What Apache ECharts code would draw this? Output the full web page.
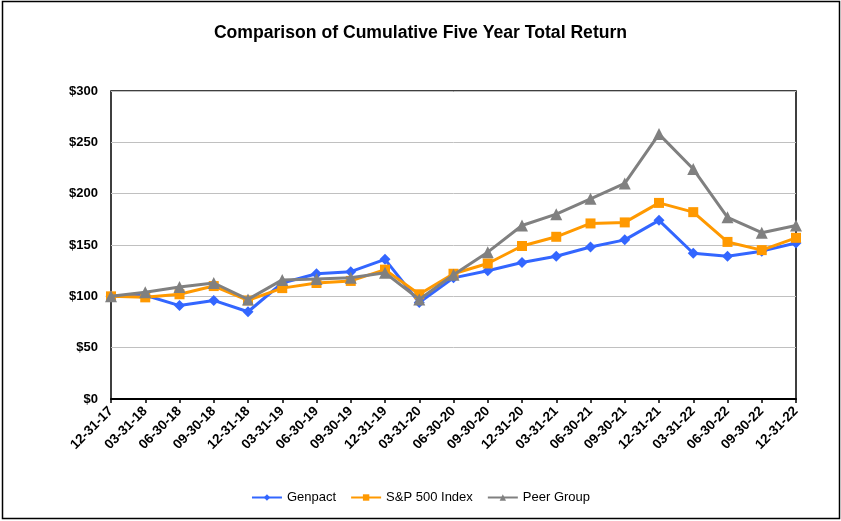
<!DOCTYPE html>
<html>
<head>
<meta charset="utf-8">
<script src="https://cdn.jsdelivr.net/npm/echarts@6/dist/echarts.min.js"></script>
<style>
html,body{margin:0;padding:0;background:#fff;}
#c{width:841px;height:521px;}
</style>
</head>
<body>
<div id="c"></div>
<script>
const categories = ["12-31-17","03-31-18","06-30-18","09-30-18","12-31-18","03-31-19","06-30-19","09-30-19","12-31-19","03-31-20","06-30-20","09-30-20","12-31-20","03-31-21","06-30-21","09-30-21","12-31-21","03-31-22","06-30-22","09-30-22","12-31-22"];
const genpact = [100,101,91,96,85,113,122,124,136,94,118,125,133,139,148,155,174,142,139,144,152];
const sp500 = [100,99,102,110,96,108,113,115,126,102,122,132,149,158,171,172,191,182,153,145,157];
const peer = [100,104,109,113,97,116,117,118,123,97,121,143,169,180,195,210,258,224,177,162,169];
const yTicks = [0,50,100,150,200,250,300];

const chart = echarts.init(document.getElementById('c'));
const font = 'Liberation Sans, Arial, sans-serif';
chart.setOption({
  animation:false,
  backgroundColor:'#fff',
  title:{text:'Comparison of Cumulative Five Year Total Return',left:'center',top:19,
    textStyle:{fontFamily:font,fontSize:17.6,fontWeight:'bold',color:'#000'}},
  graphic:[{type:'rect',shape:{x:2.5,y:1.5,width:837,height:517},style:{fill:null,stroke:'#000',lineWidth:1.5},z:-1}],
  grid:{left:111,right:45,top:91,bottom:122,show:true,borderColor:'#000',borderWidth:1.5,backgroundColor:'transparent'},
  legend:{bottom:12,left:'center',itemWidth:30,itemHeight:8,itemGap:14,
    textStyle:{fontFamily:font,fontSize:13,color:'#000'},
    data:['Genpact','S&P 500 Index','Peer Group']},
  xAxis:{type:'category',data:categories,boundaryGap:false,
    axisLine:{lineStyle:{color:'#000',width:2}},
    axisTick:{show:true,length:4,alignWithLabel:true,lineStyle:{color:'#000',width:1.5}},
    axisLabel:{rotate:45,interval:0,fontFamily:font,fontSize:13.5,fontWeight:'bold',color:'#000',margin:10}},
  yAxis:{type:'value',min:0,max:300,interval:50,
    axisLine:{show:false},axisTick:{show:false},
    splitLine:{lineStyle:{color:'#c0c0c0',width:1}},
    axisLabel:{formatter:v=>'$'+v,fontFamily:font,fontSize:13,fontWeight:'bold',color:'#000',margin:13}},
  series:[
    {name:'Genpact',type:'line',data:genpact,symbol:'diamond',symbolSize:11,
      lineStyle:{color:'#3366FF',width:3},itemStyle:{color:'#3366FF'},z:3},
    {name:'S&P 500 Index',type:'line',data:sp500,symbol:'rect',symbolSize:10,
      lineStyle:{color:'#FF9900',width:3},itemStyle:{color:'#FF9900'},z:4},
    {name:'Peer Group',type:'line',data:peer,symbol:'triangle',symbolSize:12,
      lineStyle:{color:'#808080',width:3},itemStyle:{color:'#808080'},z:5}
  ]
});
</script>
</body>
</html>
